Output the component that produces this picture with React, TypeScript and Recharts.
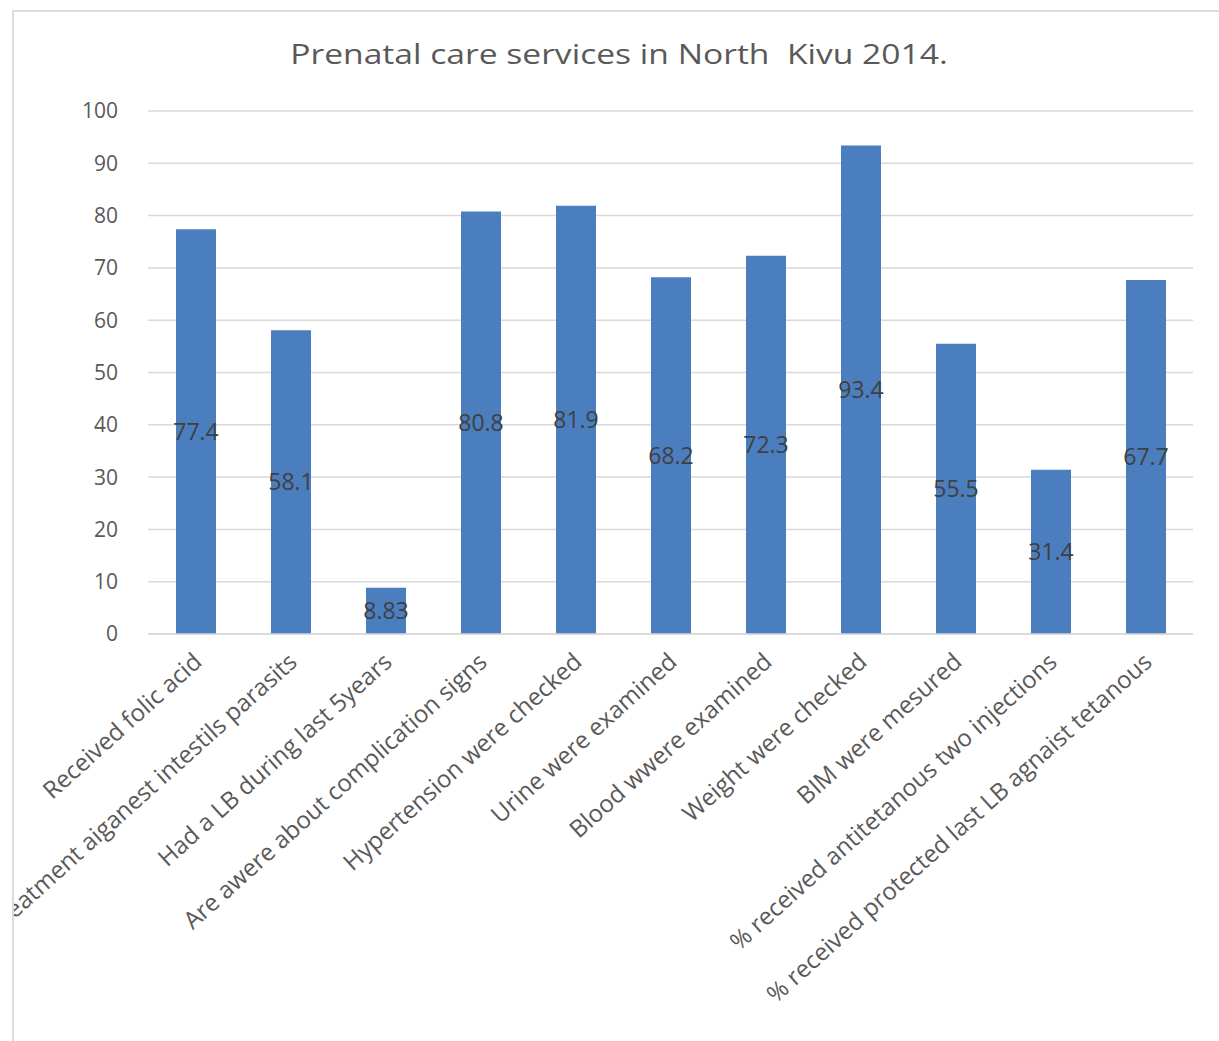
import * as React from "react";
import { Bar, BarChart, CartesianGrid, LabelList, XAxis, YAxis } from "recharts";

const categories = [
  "Received folic acid",
  "Treatment aiganest intestils parasits",
  "Had a LB during last 5years",
  "Are awere about complication signs",
  "Hypertension were checked",
  "Urine were examined",
  "Blood wwere examined",
  "Weight were checked",
  "BIM were mesured",
  "% received antitetanous two injections",
  "% received protected last LB agnaist tetanous",
];

const values = [77.4, 58.1, 8.83, 80.8, 81.9, 68.2, 72.3, 93.4, 55.5, 31.4, 67.7];

const yTicks = [0, 10, 20, 30, 40, 50, 60, 70, 80, 90, 100];

const data = categories.map((name, i) => ({ name, value: values[i] }));

const FONT = "'Open Sans', 'Noto Sans', sans-serif";

function SlantTick({ x, y, payload }: any) {
  const ax = x + 8;
  const ay = y + 22;
  return (
    <text
      x={ax}
      y={ay}
      transform={`rotate(-42, ${ax}, ${ay})`}
      textAnchor="end"
      fill="#595959"
      fontSize={24}
      fontFamily={FONT}
    >
      {payload.value}
    </text>
  );
}

export default function App() {
  return (
    <div
      style={{
        position: "absolute",
        left: 12,
        top: 10,
        width: 1205,
        height: 1029,
        borderTop: "2px solid #dcdcdc",
        borderLeft: "2px solid #dcdcdc",
        overflow: "hidden",
        background: "#fff",
      }}
    >
      <div
        style={{
          position: "absolute",
          left: 0,
          width: 1210,
          top: 22,
          textAlign: "center",
          fontFamily: FONT,
          fontSize: 28,
          color: "#595959",
          whiteSpace: "pre",
          transform: "scaleX(1.2)",
        }}
      >
        {"Prenatal care services in North  Kivu 2014."}
      </div>
      <BarChart
        width={1205}
        height={1029}
        data={data}
        margin={{ top: 99, right: 26, bottom: 7, left: 54 }}
        barSize={40}
      >
        <CartesianGrid vertical={false} stroke="#d9d9d9" strokeWidth={1.5} />
        <XAxis
          dataKey="name"
          interval={0}
          height={400}
          tick={<SlantTick />}
          tickLine={false}
          axisLine={{ stroke: "#d9d9d9", strokeWidth: 1.5 }}
        />
        <YAxis
          width={80}
          domain={[0, 100]}
          ticks={yTicks}
          tickLine={false}
          axisLine={false}
          tick={{ fill: "#595959", fontSize: 21, fontFamily: FONT }}
          tickMargin={24}
        />
        <Bar dataKey="value" fill="#4a7ebf" isAnimationActive={false}>
          <LabelList
            dataKey="value"
            position="center"
            fill="#404040"
            fontSize={23}
            fontFamily={FONT}
          />
        </Bar>
      </BarChart>
    </div>
  );
}
